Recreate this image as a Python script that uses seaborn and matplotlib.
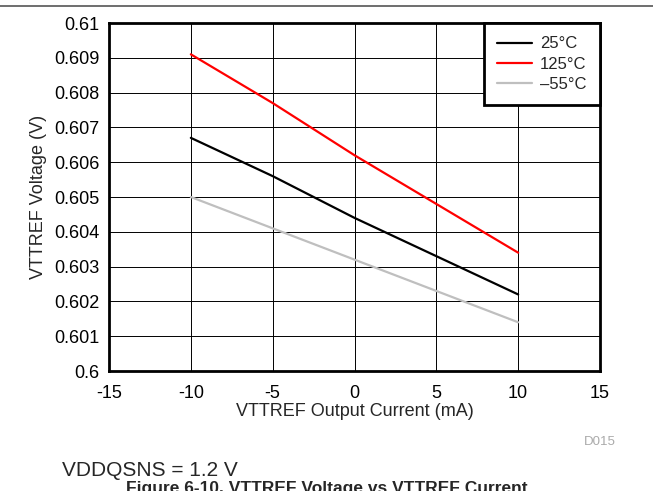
import seaborn as sns
import matplotlib.pyplot as plt
import pandas as pd
import numpy as np

# values
current = [-10, -5, 0, 5, 10]
v_25 = [0.6067, 0.6056, 0.6044, 0.6033, 0.6022]
v_125 = [0.6091, 0.6077, 0.6062, 0.6048, 0.6034]
v_m55 = [0.6050, 0.6041, 0.6032, 0.6023, 0.6014]
series_names = ["25°C", "125°C", "\u201355°C"]
series_colors = ["black", "#ff0000", "#bfbfbf"]
x_ticks = [-15, -10, -5, 0, 5, 10, 15]
y_ticks = [0.6, 0.601, 0.602, 0.603, 0.604, 0.605, 0.606, 0.607, 0.608, 0.609, 0.61]
y_labels = ["0.6", "0.601", "0.602", "0.603", "0.604", "0.605", "0.606", "0.607", "0.608", "0.609", "0.61"]

df = pd.DataFrame({
    "current": current * 3,
    "voltage": v_25 + v_125 + v_m55,
    "temp": [series_names[0]] * 5 + [series_names[1]] * 5 + [series_names[2]] * 5,
})

sns.set_style("white")
plt.rcParams['font.family'] = ['Liberation Sans', 'DejaVu Sans']

fig = plt.figure(figsize=(6.53, 4.91), dpi=100)
ax = fig.add_axes([109 / 653, 1 - 371 / 491, 491 / 653, 348 / 491])

sns.lineplot(data=df, x="current", y="voltage", hue="temp",
             palette=dict(zip(series_names, series_colors)),
             hue_order=series_names, linewidth=1.6, ax=ax)

ax.set_xlim(-15, 15)
ax.set_ylim(0.6, 0.61)
ax.set_xticks(x_ticks)
ax.set_xticklabels([str(t) for t in x_ticks])
ax.set_yticks(y_ticks)
ax.set_yticklabels(y_labels)
ax.tick_params(length=0, labelsize=13, colors="black")
ax.tick_params(axis="y", pad=7)
ax.tick_params(axis="x", pad=10)
ax.grid(True, color="black", linewidth=0.7)
ax.set_axisbelow(True)
for s in ax.spines.values():
    s.set_visible(True)
    s.set_color("black")
    s.set_linewidth(2)

ax.set_xlabel("VTTREF Output Current (mA)", fontsize=13, labelpad=1)
ax.set_ylabel("VTTREF Voltage (V)", fontsize=13, labelpad=5)

leg = ax.legend(loc="upper right", borderaxespad=0, fancybox=False,
                fontsize=12, handlelength=2.1, labelspacing=0.32,
                handletextpad=0.5, borderpad=0.8, framealpha=1)
leg.get_frame().set_edgecolor("black")
leg.get_frame().set_linewidth(2)
leg.set_title(None)

fig.add_artist(plt.Line2D([0, 1], [1 - 6 / 491, 1 - 6 / 491], color="#555555", linewidth=1.2))
fig.text(600 / 653, 1 - 442 / 491, "D015", color="#aaaaaa", fontsize=9.5, ha="center", va="center")
fig.text(62 / 653, 1 - 470 / 491, "VDDQSNS = 1.2 V", fontsize=15, ha="left", va="center")
fig.text(0.5, -2 / 491, "Figure 6-10. VTTREF Voltage vs VTTREF Current", fontsize=12.5,
         fontweight="bold", ha="center", va="baseline")

fig.savefig("out.png", dpi=100)
